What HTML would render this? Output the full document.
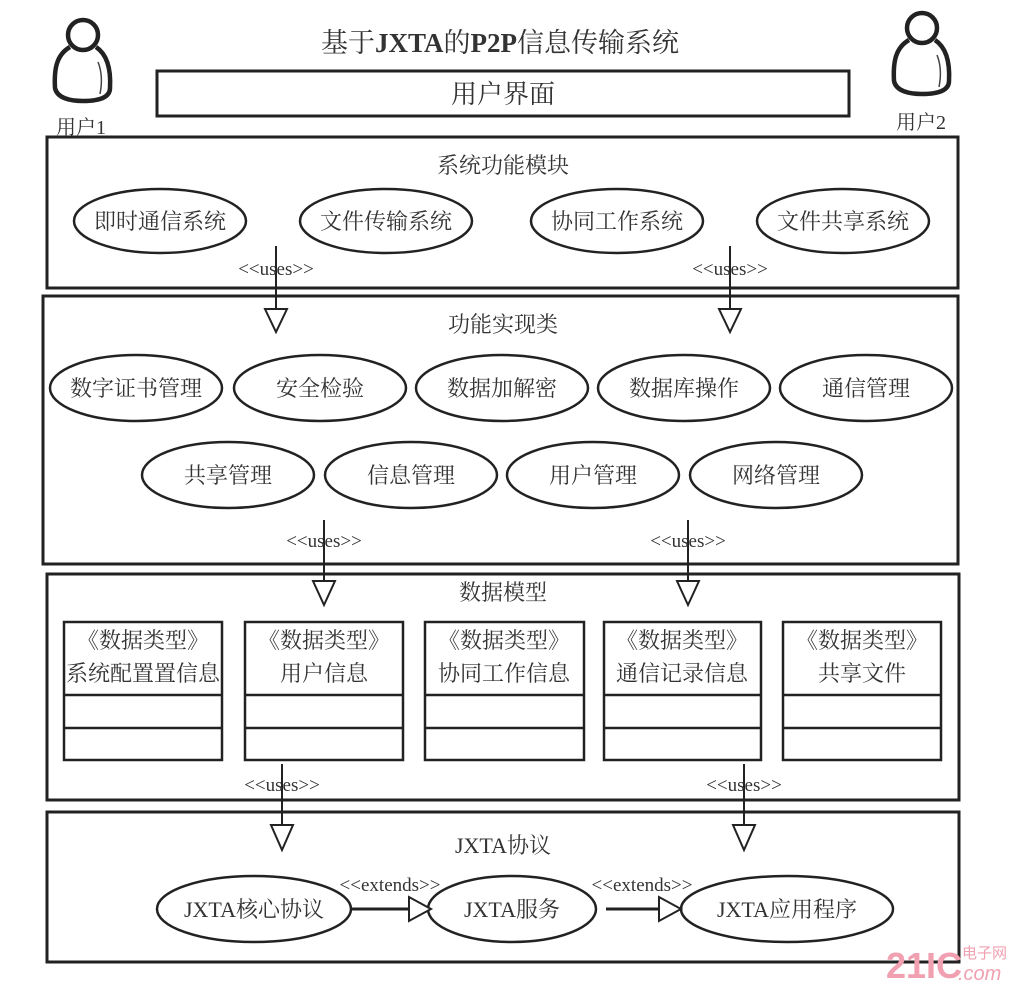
<!DOCTYPE html>
<html><head><meta charset="utf-8"><style>
html,body{margin:0;padding:0;background:#fff;}
svg{display:block;}
text{font-family:"Liberation Serif","Noto Serif CJK SC","Noto Sans CJK SC",serif;fill:#333;}
</style></head><body>
<svg width="1026" height="990" viewBox="0 0 1026 990" xmlns="http://www.w3.org/2000/svg">
<g stroke="#222" fill="none" stroke-width="4.5">
  <circle cx="83" cy="35" r="15"/>
  <path d="M70 47 C56 55 54 70 55 88 C57 98 70 101 83 101 C98 101 110 98 110 88 C111 70 108 55 96 47"/>
  <circle cx="922" cy="28" r="15"/>
  <path d="M909 40 C895 48 893 63 894 81 C896 91 909 94 922 94 C937 94 949 91 949 81 C950 63 947 48 935 40"/>
</g>
<g stroke="#444" fill="none" stroke-width="1.5">
  <path d="M98 62 C102 72 102 84 100 94"/>
  <path d="M937 55 C941 65 941 77 939 87"/>
</g>
<g stroke="#222" fill="none" stroke-width="3">
  <rect x="157" y="71" width="692" height="45"/>
  <rect x="47" y="137" width="911" height="151"/>
  <rect x="43" y="296" width="915" height="268"/>
  <rect x="47" y="574" width="912" height="226"/>
  <rect x="47" y="812" width="912" height="150"/>
</g>
<g stroke="#222" fill="#fff" stroke-width="2.5">
  <ellipse cx="160" cy="221" rx="86" ry="32"/>
  <ellipse cx="386" cy="221" rx="86" ry="32"/>
  <ellipse cx="617" cy="221" rx="86" ry="32"/>
  <ellipse cx="843" cy="221" rx="86" ry="32"/>
  <ellipse cx="136" cy="388" rx="86" ry="33"/>
  <ellipse cx="320" cy="388" rx="86" ry="33"/>
  <ellipse cx="502" cy="388" rx="86" ry="33"/>
  <ellipse cx="684" cy="388" rx="86" ry="33"/>
  <ellipse cx="866" cy="388" rx="86" ry="33"/>
  <ellipse cx="228" cy="475" rx="86" ry="33"/>
  <ellipse cx="411" cy="475" rx="86" ry="33"/>
  <ellipse cx="593" cy="475" rx="86" ry="33"/>
  <ellipse cx="776" cy="475" rx="86" ry="33"/>
  <ellipse cx="254" cy="909" rx="97" ry="33"/>
  <ellipse cx="512" cy="909" rx="84" ry="33"/>
  <ellipse cx="787" cy="909" rx="106" ry="33"/>
</g>
<g stroke="#222" fill="#fff" stroke-width="2.5">
  <rect x="64" y="622" width="158" height="138"/>
  <line x1="64" y1="695" x2="222" y2="695"/><line x1="64" y1="728" x2="222" y2="728"/>
  <rect x="245" y="622" width="158" height="138"/>
  <line x1="245" y1="695" x2="403" y2="695"/><line x1="245" y1="728" x2="403" y2="728"/>
  <rect x="425" y="622" width="159" height="138"/>
  <line x1="425" y1="695" x2="584" y2="695"/><line x1="425" y1="728" x2="584" y2="728"/>
  <rect x="604" y="622" width="157" height="138"/>
  <line x1="604" y1="695" x2="761" y2="695"/><line x1="604" y1="728" x2="761" y2="728"/>
  <rect x="783" y="622" width="158" height="138"/>
  <line x1="783" y1="695" x2="941" y2="695"/><line x1="783" y1="728" x2="941" y2="728"/>
</g>
<g stroke="#222" stroke-width="2" fill="#fff">
  <line x1="276" y1="246" x2="276" y2="310"/><polygon points="265,309 287,309 276,332"/>
  <line x1="730" y1="246" x2="730" y2="310"/><polygon points="719,309 741,309 730,332"/>
  <line x1="324" y1="520" x2="324" y2="584"/><polygon points="313,581 335,581 324,605"/>
  <line x1="688" y1="520" x2="688" y2="584"/><polygon points="677,581 699,581 688,605"/>
  <line x1="282" y1="764" x2="282" y2="828"/><polygon points="271,825 293,825 282,850"/>
  <line x1="744" y1="764" x2="744" y2="828"/><polygon points="733,825 755,825 744,850"/>
  <line x1="351" y1="909" x2="410" y2="909" stroke-width="3"/><polygon points="409,897 409,921 431,909"/>
  <line x1="606" y1="909" x2="660" y2="909" stroke-width="3"/><polygon points="659,897 659,921 681,909"/>
</g>
<g font-size="19" text-anchor="middle">
  <text x="276" y="275">&lt;&lt;uses&gt;&gt;</text>
  <text x="730" y="275">&lt;&lt;uses&gt;&gt;</text>
  <text x="324" y="547">&lt;&lt;uses&gt;&gt;</text>
  <text x="688" y="547">&lt;&lt;uses&gt;&gt;</text>
  <text x="282" y="791">&lt;&lt;uses&gt;&gt;</text>
  <text x="744" y="791">&lt;&lt;uses&gt;&gt;</text>
  <text x="390" y="891">&lt;&lt;extends&gt;&gt;</text>
  <text x="642" y="891">&lt;&lt;extends&gt;&gt;</text>
</g>
<g font-size="22" text-anchor="middle">
  <text x="500" y="52" font-size="27">基于<tspan font-weight="bold">JXTA</tspan>的<tspan font-weight="bold">P2P</tspan>信息传输系统</text>
  <text x="503" y="103" font-size="26">用户界面</text>
  <text x="81" y="134" font-size="20">用户1</text>
  <text x="921" y="129" font-size="20">用户2</text>
  <text x="503" y="173">系统功能模块</text>
  <text x="160" y="229">即时通信系统</text>
  <text x="386" y="229">文件传输系统</text>
  <text x="617" y="229">协同工作系统</text>
  <text x="843" y="229">文件共享系统</text>
  <text x="503" y="332">功能实现类</text>
  <text x="136" y="396">数字证书管理</text>
  <text x="320" y="396">安全检验</text>
  <text x="502" y="396">数据加解密</text>
  <text x="684" y="396">数据库操作</text>
  <text x="866" y="396">通信管理</text>
  <text x="228" y="483">共享管理</text>
  <text x="411" y="483">信息管理</text>
  <text x="593" y="483">用户管理</text>
  <text x="776" y="483">网络管理</text>
  <text x="503" y="600">数据模型</text>
  <text x="143" y="648">《数据类型》</text><text x="143" y="681">系统配置置信息</text>
  <text x="324" y="648">《数据类型》</text><text x="324" y="681">用户信息</text>
  <text x="504" y="648">《数据类型》</text><text x="504" y="681">协同工作信息</text>
  <text x="682" y="648">《数据类型》</text><text x="682" y="681">通信记录信息</text>
  <text x="862" y="648">《数据类型》</text><text x="862" y="681">共享文件</text>
  <text x="503" y="853">JXTA协议</text>
  <text x="254" y="917">JXTA核心协议</text>
  <text x="512" y="917">JXTA服务</text>
  <text x="787" y="917">JXTA应用程序</text>
</g>
<text x="886" y="978" font-size="36" font-weight="bold" style="fill:#f0a0b0;font-family:'Liberation Sans',sans-serif">21IC</text>
<text x="962" y="958" font-size="15" style="fill:#f0a0b0;font-family:'Liberation Sans','Noto Sans CJK SC',sans-serif">电子网</text>
<text x="958" y="980" font-size="20" font-style="italic" style="fill:#f0a0b0;font-family:'Liberation Sans',sans-serif">.com</text>
</svg>
</body></html>
